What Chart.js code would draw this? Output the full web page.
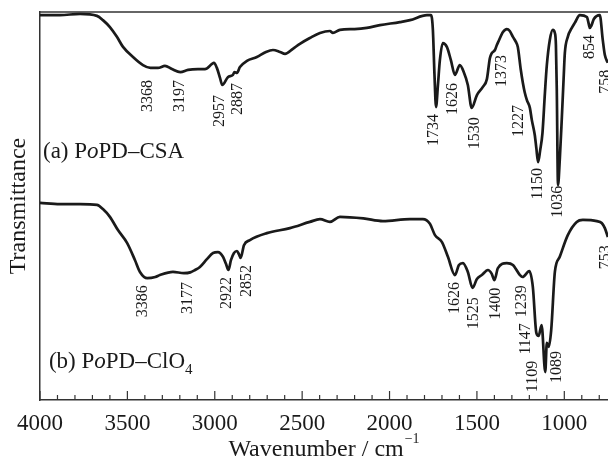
<!DOCTYPE html>
<html><head><meta charset="utf-8">
<script src="https://cdn.jsdelivr.net/npm/chart.js@4/dist/chart.umd.min.js"></script>
<style>html,body{margin:0;padding:0;background:#fff}#wrap{width:608px;height:461px}</style>
</head><body><div id="wrap"><canvas id="c" width="608" height="461"></canvas></div>
<script>
// ---- data (wavenumber in cm^-1, transmittance in arbitrary units) ----
const wnA=[4000,3886,3771,3674,3640,3600,3560,3525,3468,3411,3368,3325,3285,3245,3197,3153,3096,3056,3016,3005,2988,2970,2957,2925,2896,2887,2873,2856,2816,2759,2707,2667,2627,2598,2553,2513,2456,2398,2341,2324,2284,2200,2130,2055,1941,1883,1786,1763,1752,1743,1734,1723,1712,1695,1672,1649,1626,1598,1575,1552,1530,1500,1466,1443,1426,1415,1397,1386,1373,1360,1352,1329,1312,1294,1277,1266,1249,1237,1227,1214,1197,1186,1169,1160,1150,1138,1125,1111,1100,1083,1066,1054,1048,1043,1036,1026,1014,1003,997,980,957,940,911,871,860,854,845,831,797,780,768,751];
const tA=[99.2,99.2,99.5,99.0,97.9,96.1,93.6,91.0,88.4,86.3,85.6,85.6,86.1,85.3,84.5,85.1,85.3,85.3,86.6,86.9,85.6,83.0,81.2,83.2,83.8,84.5,84.3,85.8,87.4,88.4,89.7,90.2,89.7,89.2,90.5,91.8,93.3,94.6,95.1,94.6,95.4,95.6,95.9,96.6,97.4,97.9,99.2,99.2,95.4,84.0,75.5,81.2,87.6,92.0,91.0,87.6,83.8,86.3,84.5,81.2,75.3,78.6,80.7,82.7,88.1,89.4,90.2,91.5,92.8,94.1,94.8,95.6,95.1,93.6,92.3,91.0,85.1,81.7,79.4,77.3,75.3,72.2,68.3,64.9,61.3,64.4,68.8,79.1,86.3,92.8,95.4,94.6,91.5,79.9,55.4,61.9,72.9,83.8,89.4,93.6,95.9,97.2,99.2,98.7,96.9,95.9,96.5,98.2,99.2,92.8,88.9,86.9];
const wnB=[4000,3886,3771,3674,3640,3600,3554,3502,3457,3428,3386,3340,3314,3239,3177,3140,3113,3085,3045,3010,2982,2953,2936,2922,2907,2890,2873,2862,2852,2833,2799,2702,2570,2456,2398,2341,2284,2150,2038,1883,1809,1769,1740,1700,1666,1626,1603,1580,1552,1525,1500,1472,1437,1415,1400,1380,1329,1294,1254,1239,1200,1180,1160,1147,1130,1109,1100,1089,1075,1054,1026,980,929,894,814,786,768,751];
const tB=[50.8,50.5,50.5,50.3,49.2,47.2,43.8,40.5,36.1,33.0,31.4,31.7,32.2,33.0,32.7,32.9,33.5,34.3,36.3,37.9,38.1,36.9,35.1,33.5,36.1,37.9,38.4,37.6,36.6,39.9,41.2,43.0,44.3,45.9,46.6,45.9,47.2,46.8,46.1,46.6,46.6,45.4,42.5,40.7,36.9,32.2,34.8,35.3,33.0,28.9,31.2,32.2,33.5,32.5,30.9,34.0,35.3,34.8,32.2,31.7,33.2,29.1,17.3,16.5,19.3,7.2,14.7,13.7,18.0,33.0,36.9,42.5,45.9,46.4,46.1,45.6,44.3,42.0];
const peaksA=[3368,3197,2957,2887,1734,1626,1530,1373,1227,1150,1036,854,758];
const peaksB=[3386,3177,2922,2852,1626,1525,1400,1239,1147,1109,1089,753];
const tickValues=[4000,3500,3000,2500,2000,1500,1000];
const seriesNames=['(a) PoPD\u2013CSA','(b) PoPD\u2013ClO4'];

// ---- layout: anchor (top end) of each rotated peak label, in data units ----
const labelPosA=[[3382,82.5],[3199,82.5],[2970,78.6],[2867,81.7],[1746,73.7],[1638,81.7],[1512,72.9],[1357,88.9],[1260,76.0],[1151,59.8],[1037,55.2],[854,94.1],[762,85.1]];
const labelPosB=[[3411,29.6],[3153,30.4],[2930,31.7],[2816,34.8],[1626,30.4],[1517,26.5],[1392,28.9],[1243,29.6],[1220,19.8],[1180,10.1],[1043,12.6],[762,39.9]];
const namePos=[[3983,62.4],[3949,8.2]];

const FONT='"Liberation Serif","Times New Roman",serif';
const INK='#1a1a1a';
const AXIS='#333';

const overlay={id:'overlay',afterDraw(chart){
  const {ctx,chartArea:a,scales:{x,y}}=chart;
  ctx.save();
  ctx.strokeStyle=AXIS;ctx.lineWidth=1.5;
  ctx.beginPath();ctx.moveTo(a.left,a.top);ctx.lineTo(a.right,a.top);ctx.stroke();
  ctx.lineWidth=1.2;
  for(let w=tickValues[0];w>=x.min;w-=100){
    const px=x.getPixelForValue(w);
    if(px<a.left-0.5||px>a.right+0.5)continue;
    const L=(w%500===0)?9:5;
    ctx.beginPath();ctx.moveTo(px,a.bottom);ctx.lineTo(px,a.bottom-L);ctx.stroke();
  }
  // peak labels
  ctx.fillStyle=INK;ctx.font='16px '+FONT;ctx.textAlign='right';ctx.textBaseline='middle';
  const drawPeaks=(peaks,pos)=>{peaks.forEach((p,i)=>{
    const px=x.getPixelForValue(pos[i][0]),py=y.getPixelForValue(pos[i][1]);
    ctx.save();ctx.translate(px,py);ctx.rotate(-Math.PI/2);ctx.fillText(String(p),0,0);ctx.restore();
  });};
  drawPeaks(peaksA,labelPosA);drawPeaks(peaksB,labelPosB);
  // series names
  ctx.textAlign='left';ctx.textBaseline='alphabetic';
  const drawName=(name,pos)=>{
    let cx=x.getPixelForValue(pos[0]);const by=y.getPixelForValue(pos[1]);
    const m=name.match(/^(\(\w\) P)(o)(PD\u2013[A-Za-z]+?)(\d*)$/);
    const parts=[[m[1],'23px '+FONT,0],[m[2],'italic 23px '+FONT,0],[m[3],'23px '+FONT,0]];
    if(m[4])parts.push([m[4],'15px '+FONT,6]);
    parts.forEach(([t,f,dy])=>{ctx.font=f;ctx.fillText(t,cx,by+dy);cx+=ctx.measureText(t).width+(dy?1:0);});
  };
  drawName(seriesNames[0],namePos[0]);drawName(seriesNames[1],namePos[1]);
  // x axis title with superscript
  const main='Wavenumber / cm',sup='\u22121';
  ctx.font='24px '+FONT;const w1=ctx.measureText(main).width;
  ctx.font='14px '+FONT;const w2=ctx.measureText(sup).width;
  const cx=(a.left+a.right)/2, by=a.bottom+56;
  let sx=cx-(w1+w2+1)/2;
  ctx.font='24px '+FONT;ctx.fillText(main,sx,by);
  ctx.font='14px '+FONT;ctx.fillText(sup,sx+w1+1,by-13);
  ctx.restore();
}};

new Chart(document.getElementById('c'),{
  type:'line',
  data:{datasets:[
    {label:seriesNames[0],data:wnA.map((w,i)=>({x:w,y:tA[i]})),borderColor:INK,borderWidth:2.7,pointRadius:0,cubicInterpolationMode:'monotone',fill:false},
    {label:seriesNames[1],data:wnB.map((w,i)=>({x:w,y:tB[i]})),borderColor:INK,borderWidth:2.7,pointRadius:0,cubicInterpolationMode:'monotone',fill:false}
  ]},
  options:{
    responsive:false,animation:false,devicePixelRatio:1,
    layout:{padding:{top:12,right:0,left:0,bottom:0}},
    plugins:{legend:{display:false},tooltip:{enabled:false}},
    scales:{
      x:{type:'linear',reverse:true,min:750,max:4000,
        afterBuildTicks:s=>{s.ticks=tickValues.map(v=>({value:v}));},
        afterFit:s=>{s.height=61;},
        grid:{display:false,drawTicks:false},
        border:{display:true,color:AXIS,width:1.5},
        ticks:{color:INK,font:{family:FONT,size:23},padding:10,maxRotation:0,autoSkip:false,callback:v=>String(v)}},
      y:{min:0,max:100,
        afterFit:s=>{s.width=40;},
        grid:{display:false,drawTicks:false},
        border:{display:true,color:AXIS,width:1.5},
        ticks:{display:false},
        title:{display:true,text:'Transmittance',color:INK,font:{family:FONT,size:24},padding:{top:4,bottom:0}}}
    }
  },
  plugins:[overlay]
});
</script></body></html>
